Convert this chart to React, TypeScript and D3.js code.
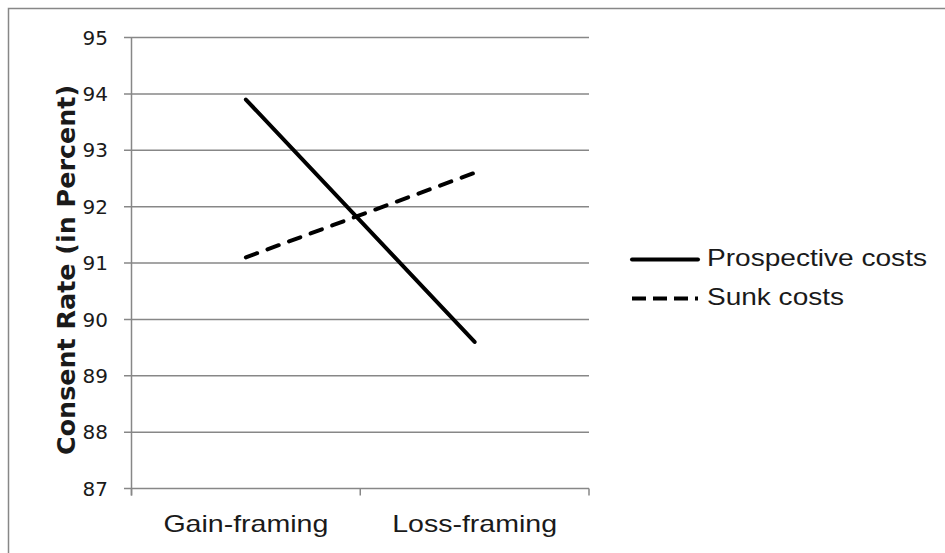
import * as d3 from "d3";

// chart values
const categories = ["Gain-framing", "Loss-framing"];
const prospectiveCosts = [93.9, 89.6];
const sunkCosts = [91.1, 92.6];
const yTicks = [87, 88, 89, 90, 91, 92, 93, 94, 95];
const seriesNames = ["Prospective costs", "Sunk costs"];

const W = 945;
const H = 553;
const gridColor = "#878787";
const textColor = "#1a1a1a";

function App() {
    const plot = { left: 131.5, right: 589, top: 37.5, bottom: 488.5 };

    const x = d3.scaleBand().domain(categories).range([plot.left, plot.right]).padding(0);
    const y = d3.scaleLinear().domain([87, 95]).range([plot.bottom, plot.top]);

    const xc = (c: string) => (x(c) ?? 0) + x.bandwidth() / 2;

    const line = d3
        .line<number>()
        .x((_, i) => xc(categories[i]))
        .y((d) => y(d));

    const series = [
        { name: seriesNames[0], values: prospectiveCosts, dash: undefined },
        { name: seriesNames[1], values: sunkCosts, dash: "12 11" },
    ];

    // x-axis tick positions at the band edges
    const xTickPos = [...categories.map((c) => x(c) ?? 0), plot.right];

    return (
        <svg
            width={W}
            height={H}
            style={{ position: "absolute", left: 0, top: 0, background: "white" }}
        >
            {/* outer frame, cut at right and bottom like the picture */}
            <rect x={8.5} y={8.5} width={1200} height={1200} fill="white" stroke={gridColor} strokeWidth={1.5} />

            {/* gridlines */}
            <g stroke={gridColor} strokeWidth={1.5}>
                {yTicks.map((t) => (
                    <line key={t} x1={plot.left - 7.5} x2={plot.right} y1={y(t)} y2={y(t)} />
                ))}
                <line x1={plot.left} x2={plot.left} y1={plot.top} y2={plot.bottom + 7} />
                {xTickPos.map((p, i) => (
                    <line key={i} x1={p} x2={p} y1={plot.bottom} y2={plot.bottom + 7} />
                ))}
            </g>

            {/* y tick labels */}
            <g fontFamily="DejaVu Sans" fontSize={20} fill={textColor} textAnchor="end">
                {yTicks.map((t) => (
                    <text key={t} x={108} y={y(t) + 7.2}>
                        {t}
                    </text>
                ))}
            </g>

            {/* x category labels */}
            <g fontFamily="Liberation Sans, Arial" fontSize={24} fill={textColor} textAnchor="middle">
                {categories.map((c) => (
                    <text key={c} x={xc(c)} y={532} textLength={165} lengthAdjust="spacingAndGlyphs">
                        {c}
                    </text>
                ))}
            </g>

            {/* y title */}
            <text
                transform={`translate(75, ${(plot.top + plot.bottom) / 2 + 7}) rotate(-90)`}
                textAnchor="middle"
                fontFamily="DejaVu Sans"
                fontWeight="bold"
                fontSize={25}
                fill={textColor}
                textLength={370}
                lengthAdjust="spacingAndGlyphs"
            >
                Consent Rate (in Percent)
            </text>

            {/* series lines */}
            {series.map((s) => (
                <path
                    key={s.name}
                    d={line(s.values) ?? ""}
                    fill="none"
                    stroke="black"
                    strokeWidth={4}
                    strokeDasharray={s.dash}
                    strokeLinecap="round"
                />
            ))}

            {/* legend */}
            <g>
                {series.map((s, i) => (
                    <g key={s.name} transform={`translate(0, ${259.5 + i * 39})`}>
                        <line
                            x1={632}
                            x2={698}
                            y1={0}
                            y2={0}
                            stroke="black"
                            strokeWidth={4}
                            strokeDasharray={s.dash ? "14 7" : undefined}
                            strokeLinecap={s.dash ? "butt" : "round"}
                        />
                        <text
                            x={707}
                            y={6}
                            fontFamily="Liberation Sans, Arial"
                            fontSize={24}
                            fill={textColor}
                            textLength={i === 0 ? 220 : 137}
                            lengthAdjust="spacingAndGlyphs"
                        >
                            {s.name}
                        </text>
                    </g>
                ))}
            </g>
        </svg>
    );
}

export default App;
